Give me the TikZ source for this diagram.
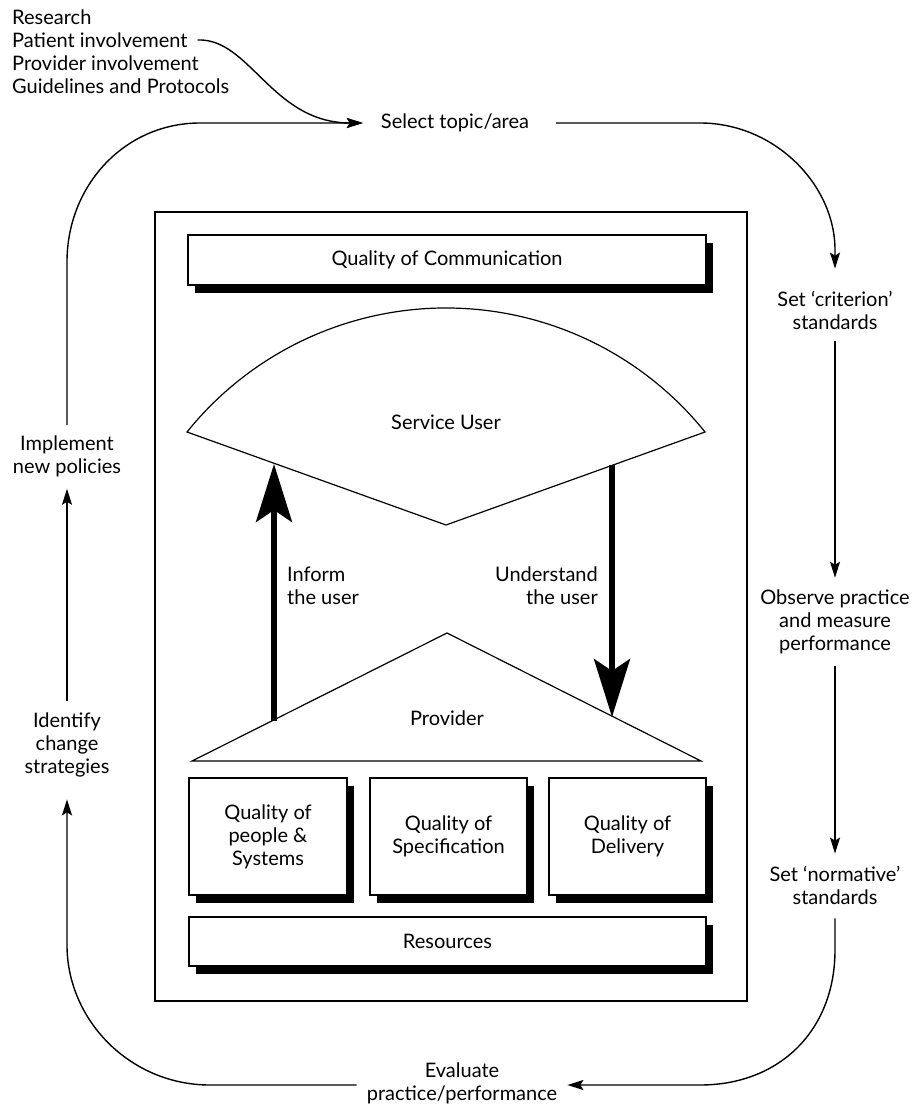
\documentclass[tikz,border=0pt]{standalone}
\usepackage{fontspec}
\setmainfont{Lato}
\usetikzlibrary{arrows.meta,shadows,calc}
\begin{document}
\begin{tikzpicture}[x=1pt,y=-1pt,
  lbl/.style={font=\fontsize{20}{23}\selectfont, align=center, inner sep=0pt},
  flow/.style={line width=1.4pt, -{Stealth[length=16pt,width=10pt,inset=3pt]}},
  bigarrow/.style={line width=5.5pt, -{Stealth[length=58pt,width=36pt,inset=12pt]}},
  outline/.style={line width=1.2pt, fill=white},
  qbox/.style={draw, line width=1.2pt, fill=white, lbl,
    drop shadow={fill=black, opacity=1, shadow xshift=7pt, shadow yshift=-8pt}},
]
\useasboundingbox (0,0) rectangle (920,1110);

% sources feeding the topic choice
\node[lbl, anchor=west] (research) at (12,17) {Research};
\node[lbl, anchor=west] (patient)  at (12,40) {Patient involvement};
\node[lbl, anchor=west] (provinv)  at (12,63) {Provider involvement};
\node[lbl, anchor=west] (guide)    at (12,86) {Guidelines and Protocols};

% audit cycle labels
\node[lbl] (select)    at (455,123)  {Select topic/area};
\node[lbl] (criterion) at (835,310)  {Set ‘criterion’\\standards};
\node[lbl] (observe)   at (835,622)  {Observe practice\\and measure\\performance};
\node[lbl] (normative) at (835,885)  {Set ‘normative’\\standards};
\node[lbl] (evaluate)  at (462,1083) {Evaluate\\practice/performance};
\node[lbl] (identify)  at (67,745)   {Identify\\change\\strategies};
\node[lbl] (implement) at (67,456)   {Implement\\new policies};

% central frame
\node[draw, line width=1.4pt, minimum width=592pt, minimum height=789pt, inner sep=0pt] (frame) at (451,606.5) {};

\node[qbox, minimum width=518pt, minimum height=50pt] (comm) at (447,260) {Quality of Communication};

% service user: circular cap over a downward wedge
\draw[outline] (187,432) arc[start angle=-141.17, end angle=-38.83, radius=332.5] -- (446,525) -- cycle;
\node[lbl] (user) at (446,422) {Service User};

% provider: triangle
\draw[outline] (192,761) -- (447,633) -- (701,761) -- cycle;
\node[lbl] (provider) at (447,718) {Provider};

\coordinate (informA) at (274,721);
\coordinate (informB) at (274,464);
\coordinate (underA) at (612,465);
\coordinate (underB) at (612,717);
\draw[bigarrow] (informA) -- (informB);
\draw[bigarrow] (underA) -- (underB);
\node[lbl, anchor=west, align=left] (inform) at (287,586) {Inform\\the user};
\node[lbl, anchor=east, align=right] (understand) at (598,586) {Understand\\the user};

\node[qbox, minimum width=158pt, minimum height=117pt] (people) at (268,836.5) {Quality of\\people \&\\Systems};
\node[qbox, minimum width=157pt, minimum height=117pt] (spec)   at (448.5,836.5) {Quality of\\Specification};
\node[qbox, minimum width=157pt, minimum height=117pt] (deliv)  at (627.5,836.5) {Quality of\\Delivery};
\node[qbox, minimum width=517pt, minimum height=49pt] (resources) at (447.5,941.5) {Resources};

% cycle connectors
\draw[flow] ($(patient.east)+(10,0)$) .. controls (250,38) and (272,123) .. ($(select.west)+(-18,0)$);
\draw[flow] ($(implement.north)+(0,-10)$) -- (67,262) .. controls (67,185) and (125,123) .. (200,123) -- ($(select.west)+(-18,0)$);
\draw[flow] ($(select.east)+(27,0)$) -- (700,123) .. controls (775,123) and (835,185) .. (835,250) -- ($(criterion.north)+(0,-22)$);
\draw[flow] ($(criterion.south)+(0,12)$) -- ($(observe.north)+(0,-12)$);
\draw[flow] ($(observe.south)+(0,12)$) -- ($(normative.north)+(0,-12)$);
\draw[flow] ($(normative.south)+(0,14)$) -- (835,950) .. controls (835,1030) and (780,1085) .. (700,1085) -- ($(evaluate.east)+(10,2)$);
\draw[flow] ($(evaluate.west)+(-10,2)$) -- (210,1085) .. controls (130,1085) and (67,1020) .. (67,945) -- ($(identify.south)+(0,22)$);
\draw[flow] ($(identify.north)+(0,-12)$) -- ($(implement.south)+(0,12)$);
\end{tikzpicture}
\end{document}
